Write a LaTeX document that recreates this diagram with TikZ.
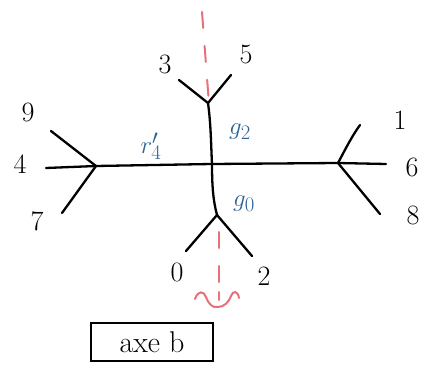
\documentclass[tikz,border=0pt]{standalone}
\begin{document}
\begin{tikzpicture}[x=1pt,y=-1pt,
  edge/.style={line width=2.3pt,line cap=round,line join=round,draw=black},
  axis/.style={line width=2pt,draw=axisred,dash pattern=on 16pt off 18pt,line cap=round},
  leaf/.style={font=\fontsize{28}{30}\selectfont,text=black,inner sep=0pt},
  edgelbl/.style={font=\fontsize{32}{34}\selectfont,text=labelblue,inner sep=0pt},
  tagbox/.style={draw=black,line width=2pt,minimum width=122pt,minimum height=38pt,
                 font=\fontsize{30}{32}\selectfont,inner sep=0pt}]
\definecolor{axisred}{HTML}{E9707A}
\definecolor{labelblue}{HTML}{2E6394}
\useasboundingbox (0,0) rectangle (433,371);

% inner vertices of the tree
\coordinate (C) at (212,164);
\coordinate (U) at (208,103);
\coordinate (D) at (217,215);
\coordinate (L) at (96,166);
\coordinate (R) at (338,163);

% leaf ends
\coordinate (e3) at (179,80);
\coordinate (e5) at (231,75);
\coordinate (e0) at (186,251);
\coordinate (e2) at (252,256);
\coordinate (e9) at (51,131);
\coordinate (e4) at (46,168);
\coordinate (e7) at (62,213);
\coordinate (e1) at (360,125);
\coordinate (e6) at (386,164);
\coordinate (e8) at (380,214);

% symmetry axis
\coordinate (a1) at (202,12);
\coordinate (a2) at (209,104);
\coordinate (a3) at (219,232);
\coordinate (a4) at (219,282);
\draw[axis] (a1) -- (a2);
\draw[axis] (a3) -- (a4);

% rotation mark on the axis
\coordinate (r0) at (195,299);
\coordinate (r1) at (218,307);
\coordinate (r2) at (239,298);
\coordinate (t0) at (219,292);
\coordinate (t1) at (219,300);
\draw[line width=2pt,draw=axisred,line cap=round]
  (r0) .. controls (198,290) and (204,291) .. (206,297)
       .. controls (209,305) and (213,308) .. (r1)
       .. controls (224,307) and (229,302) .. (231,296)
       .. controls (233,290) and (238,291) .. (r2);
\draw[line width=2pt,draw=axisred,line cap=round] (t0) -- (t1);

% tree edges
\draw[edge] (L) -- (C) -- (R);
\draw[edge] (U) .. controls (211,125) and (211,145) .. (C)
            .. controls (212,185) and (213,200) .. (D);
\draw[edge] (U) -- (e3);
\draw[edge] (U) -- (e5);
\draw[edge] (D) -- (e0);
\draw[edge] (D) -- (e2);
\draw[edge] (L) -- (e9);
\draw[edge] (L) -- (e4);
\draw[edge] (L) -- (e7);
\draw[edge] (R) .. controls (346,148) and (352,136) .. (e1);
\draw[edge] (R) -- (e6);
\draw[edge] (R) -- (e8);

% leaf labels
\node[leaf] (n3) at (165,64) {3};
\node[leaf] (n5) at (246,54) {5};
\node[leaf] (n0) at (177,272) {0};
\node[leaf] (n2) at (264,276) {2};
\node[leaf] (n9) at (28,112) {9};
\node[leaf] (n4) at (20,164) {4};
\node[leaf] (n7) at (37,221) {7};
\node[leaf] (n1) at (400,120) {1};
\node[leaf] (n6) at (412,167) {6};
\node[leaf] (n8) at (413,215) {8};

% edge labels
\node[edgelbl] (lr) at (151,146) {$r'_4$};
\node[edgelbl] (lg2) at (240,132) {$g_2$};
\node[edgelbl] (lg0) at (244,204) {$g_0$};

% caption box
\node[tagbox] (cap) at (152,342) {axe b};
\end{tikzpicture}
\end{document}
